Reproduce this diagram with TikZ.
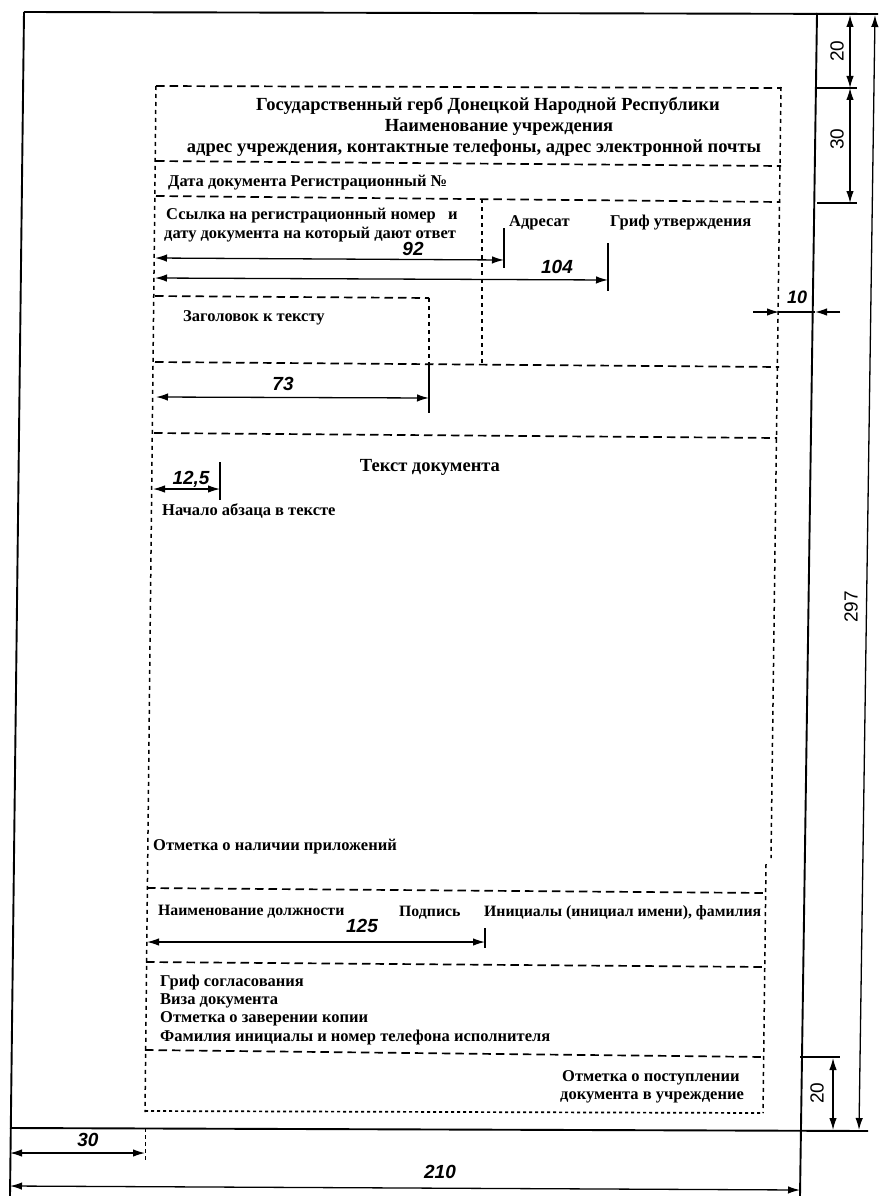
\documentclass[tikz,border=0pt]{standalone}
\usepackage{fontspec}
\setmainfont{Liberation Serif}
\newfontfamily\dimfont{Liberation Sans}
\usetikzlibrary{arrows.meta}
\tikzset{
  frameline/.style={line width=1.9pt},
  hd/.style={line width=1.7pt, dash pattern=on 8.5pt off 5pt},
  vd/.style={line width=1.5pt, dash pattern=on 4pt off 4pt},
  dimline/.style={line width=1.3pt, {Latex[length=12pt,width=7.5pt]}-{Latex[length=12pt,width=7.5pt]}},
  oneend/.style={line width=1.3pt, -{Latex[length=12pt,width=7.5pt]}},
  extline/.style={line width=1.1pt},
  lbl/.style={inner sep=0pt, font=\fontsize{16.5}{19}\selectfont\bfseries},
  hdr/.style={inner sep=0pt, font=\fontsize{18.5}{20}\selectfont\bfseries},
  sml/.style={inner sep=0pt, font=\fontsize{15.8}{17}\selectfont\bfseries},
  num/.style={inner sep=0pt, font=\dimfont\fontsize{19}{21}\selectfont\bfseries\itshape},
  rnum/.style={inner sep=0pt, rotate=90, font=\dimfont\fontsize{19}{21}\selectfont},
}
\begin{document}
\begin{tikzpicture}[x=1pt,y=-1pt]
\useasboundingbox (0,0) rectangle (882,1196);
\fill[white] (0,0) rectangle (882,1196);

% ---------- page frame ----------
\draw[frameline] (24,12) -- (878,14);
\draw[frameline] (24,12) -- (10,1196);
\draw[frameline] (817,13) -- (800,1196);
\draw[frameline] (10,1128) -- (868,1131);

% ---------- right dimensions ----------
\coordinate (r20a) at (850,15);
\coordinate (r20b) at (850,88);
\coordinate (r30b) at (850,203);
\draw[extline] (817,88) -- (857,88);
\draw[extline] (817,203) -- (857,203);
\draw[dimline] (r20a) -- (r20b);
\draw[dimline] (r20b) -- (r30b);
\node[rnum] (n20top) at (837,51) {20};
\node[rnum] (n30top) at (837,139) {30};

\coordinate (d297a) at (875,15);
\coordinate (d297b) at (859,1130);
\draw[dimline] (d297a) -- (d297b);
\node[rnum] (n297) at (851,607) {297};

\coordinate (b20a) at (833,1058);
\coordinate (b20b) at (833,1130);
\draw[extline] (800,1057) -- (840,1057);
\draw[dimline] (b20a) -- (b20b);
\node[rnum] (n20bot) at (817,1093) {20};

% 10 mm right margin
\coordinate (t10a) at (753,312);
\coordinate (t10b) at (779,312);
\coordinate (t10c) at (815,312);
\coordinate (t10d) at (840,312);
\draw[extline] (t10b) -- (t10c);
\draw[oneend] (t10a) -- (t10b);
\draw[oneend] (t10d) -- (t10c);
\node[num, font=\dimfont\fontsize{18}{20}\selectfont\bfseries\itshape] (n10) at (797,297) {10};

% ---------- bottom dimensions ----------
\coordinate (b30a) at (10,1153);
\coordinate (b30b) at (145,1153);
\draw[extline, dash pattern=on 4pt off 3pt, line width=0.8pt] (145,1128) -- (145,1160);
\draw[dimline] (b30a) -- (b30b);
\node[num] (n30bot) at (88,1140) {30};

\coordinate (b210a) at (10,1186);
\coordinate (b210b) at (800,1190);
\draw[dimline] (b210a) -- (b210b);
\node[num] (n210) at (440,1172) {210};

% ---------- dashed layout ----------
% outer verticals
\draw[vd] (156,86) -- (145,1112);
\draw[vd] (781,87) -- (771,858);
\draw[vd] (766,864) -- (763,1113);
% horizontals
\draw[hd] (156,86) -- (781,88);
\draw[hd] (156,161) -- (781,166);
\draw[hd] (156,196) -- (780,202);
\draw[hd] (155,362) -- (779,367);
\draw[hd] (154,433) -- (777,438);
\draw[hd] (147,888) -- (766,893);
\draw[hd] (146,962) -- (765,967);
\draw[hd] (145,1050) -- (764,1057);
\draw[vd, line width=1.7pt, dash pattern=on 3pt off 3pt] (145,1111) -- (763,1113);
% addressee block
\draw[vd] (482,199) -- (482,364);
% heading block
\draw[hd] (155,296) -- (429,298);
\draw[vd] (429,298) -- (429,363);
\draw[extline] (429,363) -- (429,413);

% ---------- inner dimensions ----------
\coordinate (d92a) at (155,258);
\coordinate (d92b) at (504,260);
\draw[extline] (504,228) -- (504,268);
\draw[dimline] (d92a) -- (d92b);
\node[num] (n92) at (413,249) {92};

\coordinate (d104a) at (155,278);
\coordinate (d104b) at (608,280);
\draw[extline] (608,243) -- (608,291);
\draw[dimline] (d104a) -- (d104b);
\node[num] (n104) at (557,267) {104};

\coordinate (d73a) at (156,397);
\coordinate (d73b) at (429,398);
\draw[dimline] (d73a) -- (d73b);
\node[num] (n73) at (283,384) {73};

\coordinate (d125a) at (147,942);
\coordinate (d125b) at (485,942);
\draw[extline] (485,928) -- (485,948);
\draw[dimline] (d125a) -- (d125b);
\node[num] (n125) at (362,926) {125};

\coordinate (d12a) at (153,489);
\coordinate (d12b) at (220,489);
\draw[extline] (220,462) -- (220,500);
\draw[dimline] (d12a) -- (d12b);
\node[num] (n12) at (191,479) {12,5};

% ---------- texts ----------
\node[hdr] (t1) at (488,106) {Государственный герб Донецкой Народной Республики};
\node[hdr] (t2) at (499,127) {Наименование учреждения};
\node[hdr] (t3) at (474,148) {адрес учреждения, контактные телефоны, адрес электронной почты};
\node[lbl, anchor=west] (t4) at (168,183) {Дата документа Регистрационный №};
\node[lbl, anchor=west] (t5) at (166,216) {Ссылка на регистрационный номер\ \ \ и};
\node[lbl, anchor=west] (t6) at (164,235) {дату документа на который дают ответ};
\node[lbl, anchor=west] (t7) at (509,223) {Адресат};
\node[lbl, anchor=west] (t8) at (610,223) {Гриф утверждения};
\node[lbl, anchor=west] (t9) at (183,318) {Заголовок к тексту};
\node[hdr] (t10) at (430,467) {Текст документа};
\node[lbl, anchor=west] (t11) at (162,511) {Начало абзаца в тексте};
\node[lbl, anchor=west] (t12) at (153,847) {Отметка о наличии приложений};
\node[sml, anchor=west] (t13) at (158,912) {Наименование должности};
\node[sml, anchor=west] (t14) at (399,913) {Подпись};
\node[sml, anchor=west] (t15) at (484,913) {Инициалы (инициал имени), фамилия};
\node[lbl, anchor=west] (t16) at (160,983) {Гриф согласования};
\node[lbl, anchor=west] (t17) at (160,1001) {Виза документа};
\node[lbl, anchor=west] (t18) at (160,1019) {Отметка о заверении копии};
\node[lbl, anchor=west] (t19) at (160,1038) {Фамилия инициалы и номер телефона исполнителя};
\node[lbl, anchor=west] (t20) at (562,1078) {Отметка о поступлении};
\node[lbl, anchor=west] (t21) at (560,1097) {документа в учреждение};
\end{tikzpicture}
\end{document}
